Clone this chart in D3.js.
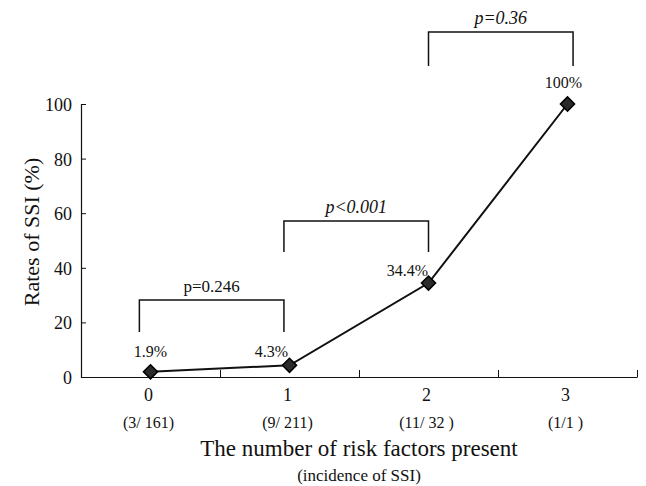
<!DOCTYPE html>
<html>
<head>
<meta charset="utf-8">
<script src="https://d3js.org/d3.v7.min.js"></script>
<style>
  body { margin: 0; background: #fff; }
  svg, svg text { font-family: "Liberation Serif", "DejaVu Serif", serif; }
  svg { display: block; }
</style>
</head>
<body>
<div id="chart"></div>
<script>
// chart data
const categories = ['0', '1', '2', '3'];
const incidence = ['(3/ 161)', '(9/ 211)', '(11/ 32 )', '(1/1 )'];
const rates = [1.9, 4.3, 34.4, 100];
const rateLabels = ['1.9%', '4.3%', '34.4%', '100%'];
const yTicks = [0, 20, 40, 60, 80, 100];

// comparison brackets (x in category units, y in % units)
const bracketFrom = [-0.08, 0.96, 2.0];
const bracketTo = [0.96, 2.0, 3.04];
const bracketTop = [28.2, 57.1, 126.4];
const bracketBottom = [16.5, 45.8, 113.9];
const pLabels = ['p=0.246', 'p<0.001', 'p=0.36'];

const width = 646, height = 486;
const plot = { left: 81, right: 637, top: 104, bottom: 377 };
const serif = '"Liberation Serif", "DejaVu Serif", serif';

const svg = d3.select('#chart').append('svg')
    .attr('width', width)
    .attr('height', height)
    .attr('viewBox', `0 0 ${width} ${height}`);

const x = d3.scaleLinear().domain([-0.5, 3.5]).range([plot.left, plot.right]);
const y = d3.scaleLinear().domain([0, 100]).range([plot.bottom, plot.top]);

// y axis
const yAxis = svg.append('g')
    .attr('transform', `translate(${plot.left},0)`)
    .call(d3.axisLeft(y).tickValues(yTicks).tickSize(-5).tickPadding(9))
    .attr('font-family', serif);
yAxis.select('.domain').attr('stroke', '#111').attr('stroke-width', 1.2);
yAxis.selectAll('.tick line').attr('stroke', '#111');
yAxis.selectAll('.tick text')
    .style('font-size', '18px')
    .attr('fill', '#111')
    .attr('dy', '0.36em');

// x axis: boundary ticks pointing up
const xAxis = svg.append('g')
    .attr('transform', `translate(0,${plot.bottom})`)
    .call(d3.axisBottom(x).tickValues([0.5, 1.5, 2.5, 3.5]).tickSize(-7).tickSizeOuter(0).tickFormat(''));
xAxis.select('.domain').attr('stroke', '#111').attr('stroke-width', 1.2);
xAxis.selectAll('.tick line').attr('stroke', '#111');

// category labels
svg.append('g').selectAll('text')
    .data(categories)
    .enter().append('text')
    .attr('x', (d, i) => x(i) - 2)
    .attr('y', 401)
    .attr('text-anchor', 'middle')
    .style('font-size', '18px')
    .attr('fill', '#111')
    .text(d => d);

svg.append('g').selectAll('text')
    .data(incidence)
    .enter().append('text')
    .attr('x', (d, i) => x(i) - 2)
    .attr('y', 428)
    .attr('text-anchor', 'middle')
    .style('font-size', '16px')
    .attr('fill', '#111')
    .text(d => d);

// axis titles
svg.append('text')
    .attr('x', (plot.left + plot.right) / 2)
    .attr('y', 456)
    .attr('text-anchor', 'middle')
    .style('font-size', '23px')
    .attr('fill', '#111')
    .text('The number of risk factors present');

svg.append('text')
    .attr('x', (plot.left + plot.right) / 2)
    .attr('y', 481)
    .attr('text-anchor', 'middle')
    .style('font-size', '17px')
    .attr('fill', '#111')
    .text('(incidence of SSI)');

svg.append('text')
    .attr('transform', `translate(39,232) rotate(-90)`)
    .attr('text-anchor', 'middle')
    .style('font-size', '22px')
    .attr('fill', '#111')
    .text('Rates of SSI (%)');

// line + markers
const line = d3.line()
    .x((d, i) => x(i))
    .y(d => y(d));

svg.append('path')
    .datum(rates)
    .attr('d', line)
    .attr('fill', 'none')
    .attr('stroke', '#111')
    .attr('stroke-width', 2);

const diamond = d3.symbol().type(d3.symbolSquare).size(100);
svg.append('g').selectAll('path')
    .data(rates)
    .enter().append('path')
    .attr('d', diamond)
    .attr('transform', (d, i) => `translate(${x(i)},${y(d)}) rotate(45)`)
    .attr('fill', '#2a2a2a')
    .attr('stroke', '#000')
    .attr('stroke-width', 1.5);

// value labels
const labelDx = [0, -18, -21, -4];
const labelDy = [-15, -8, -7, -16];
svg.append('g').selectAll('text')
    .data(rateLabels)
    .enter().append('text')
    .attr('x', (d, i) => x(i) + labelDx[i])
    .attr('y', (d, i) => y(rates[i]) + labelDy[i])
    .attr('text-anchor', 'middle')
    .style('font-size', '16px')
    .attr('fill', '#111')
    .text(d => d);

// brackets
const brackets = svg.append('g');
pLabels.forEach((label, i) => {
    const x0 = x(bracketFrom[i]), x1 = x(bracketTo[i]);
    const yt = y(bracketTop[i]), yb = y(bracketBottom[i]);
    brackets.append('path')
        .attr('d', `M${x0},${yb}V${yt}H${x1}V${yb}`)
        .attr('fill', 'none')
        .attr('stroke', '#111')
        .attr('stroke-width', 1.5);
    brackets.append('text')
        .attr('x', (x0 + x1) / 2)
        .attr('y', yt - 8)
        .attr('text-anchor', 'middle')
        .style('font-size', i === 0 ? '17px' : '18px')
        .style('font-style', i === 0 ? 'normal' : 'italic')
        .attr('fill', '#111')
        .text(label);
});
</script>
</body>
</html>
